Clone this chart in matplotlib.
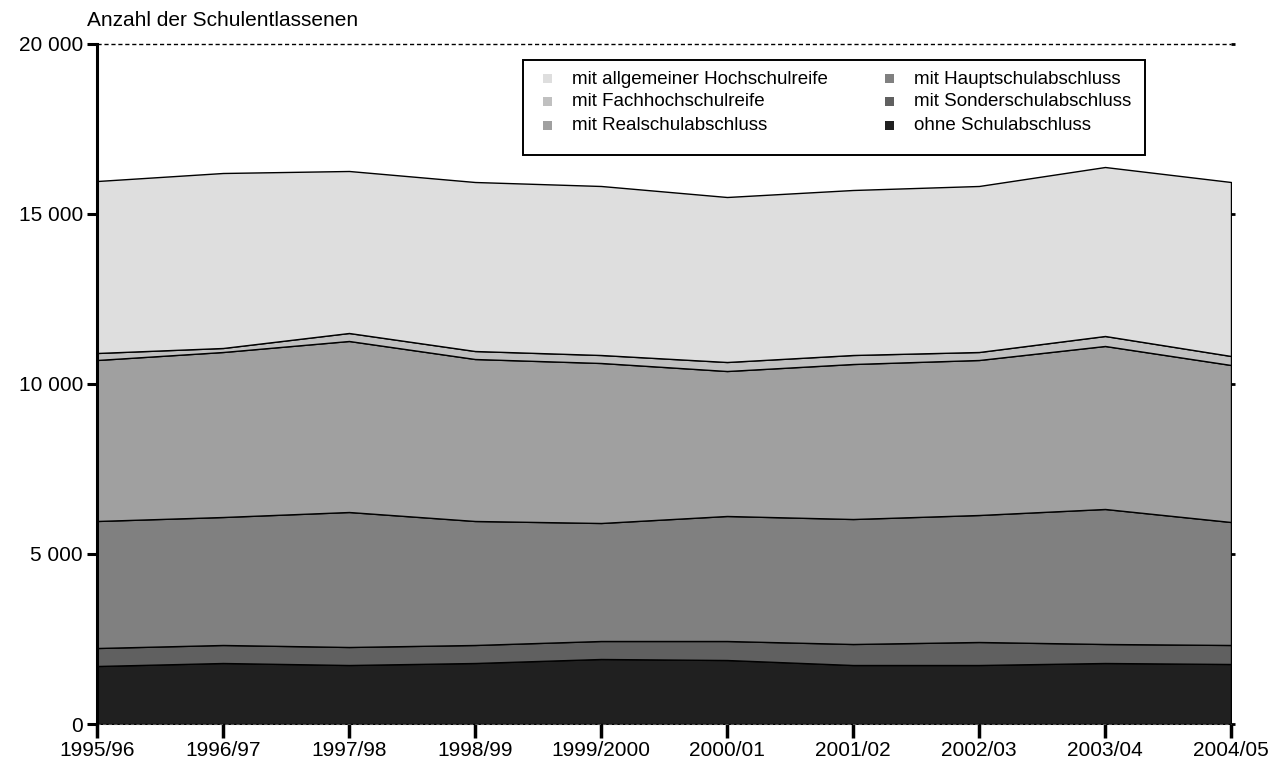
import matplotlib
matplotlib.use("Agg")
import matplotlib.pyplot as plt
from matplotlib.patches import Rectangle

plt.rcParams['font.family'] = ['Liberation Sans', 'DejaVu Sans']

years = ["1995/96", "1996/97", "1997/98", "1998/99", "1999/2000",
         "2000/01", "2001/02", "2002/03", "2003/04", "2004/05"]

# cumulative tops
top_ohne   = [1706, 1794, 1735, 1794, 1912, 1882, 1735, 1735, 1794, 1765]
top_sonder = [2235, 2324, 2265, 2324, 2441, 2441, 2353, 2412, 2353, 2324]
top_haupt  = [5971, 6088, 6235, 5971, 5912, 6118, 6029, 6147, 6324, 5941]
top_real   = [10706, 10941, 11265, 10735, 10618, 10382, 10588, 10706, 11118, 10559]
top_fach   = [10912, 11059, 11500, 10970, 10853, 10647, 10853, 10941, 11412, 10824]
top_hoch   = [15970, 16206, 16265, 15941, 15824, 15500, 15706, 15824, 16382, 15941]

ohne   = top_ohne
sonder = [b - a for a, b in zip(top_ohne, top_sonder)]
haupt  = [b - a for a, b in zip(top_sonder, top_haupt)]
real   = [b - a for a, b in zip(top_haupt, top_real)]
fach   = [b - a for a, b in zip(top_real, top_fach)]
hoch   = [b - a for a, b in zip(top_fach, top_hoch)]

series = [ohne, sonder, haupt, real, fach, hoch]
labels = ["ohne Schulabschluss", "mit Sonderschulabschluss", "mit Hauptschulabschluss",
          "mit Realschulabschluss", "mit Fachhochschulreife", "mit allgemeiner Hochschulreife"]
colors = ["#202020", "#606060", "#808080", "#a0a0a0", "#c0c0c0", "#dedede"]

yticks = [0, 5000, 10000, 15000, 20000]
ytick_labels = ["0", "5 000", "10 000", "15 000", "20 000"]

W, H = 1273, 764
fig = plt.figure(figsize=(W / 100, H / 100), dpi=100)
ax = fig.add_axes([97 / W, 1 - 724 / H, (1231 - 97) / W, (724 - 44) / H])

x = list(range(len(years)))
ax.stackplot(x, *series, colors=colors, edgecolor="black", linewidth=1.0, zorder=2)

ax.set_xlim(0, len(years) - 1)
ax.set_ylim(0, 20000)
ax.set_xticks(x)
ax.set_xticklabels(years, fontsize=15)
ax.set_yticks(yticks)
ax.set_yticklabels(ytick_labels, fontsize=15)

for s in ["top", "right", "bottom"]:
    ax.spines[s].set_visible(False)
ax.spines["left"].set_linewidth(2.2)
ax.spines["left"].set_zorder(5)

ax.tick_params(axis="y", direction="out", length=7, width=2.2, pad=3, right=True)
ax.tick_params(axis="x", direction="out", length=10, width=2.5, pad=2)
for t in ax.yaxis.get_major_ticks():
    t.tick2line.set_markersize(3)
    t.tick2line.set_markeredgewidth(2)

ax.axhline(20000, color="black", linestyle=(0, (3, 2)), linewidth=1.0, zorder=1, clip_on=False)
ax.axhline(0, color="#555555", linestyle=(0, (3, 2)), linewidth=0.8, zorder=3, clip_on=False)

fig.text(87 / W, 1 - 20 / H, "Anzahl der Schulentlassenen", fontsize=15,
         ha="left", va="center")

# legend box (drawn in figure pixel space)
def fx(px):
    return px / W

def fy(py):
    return 1 - py / H

fig.patches.append(Rectangle((fx(523), fy(155)), (1145 - 523) / W, (155 - 60) / H,
                             transform=fig.transFigure, facecolor="white",
                             edgecolor="black", linewidth=1.4, zorder=10))
legend_order = [5, 4, 3, 2, 1, 0]
col_x = [(543, 572), (885, 914)]
row_y = [79, 102, 126]
for k, i in enumerate(legend_order):
    col, row = divmod(k, 3)
    mx, tx = col_x[col]
    ry = row_y[row]
    fig.patches.append(Rectangle((fx(mx), fy(ry + 4)), 9 / W, 9 / H,
                                 transform=fig.transFigure, facecolor=colors[i],
                                 edgecolor="none", zorder=11))
    fig.text(fx(tx), fy(ry), labels[i], fontsize=13.5, ha="left", va="center",
             zorder=12)

fig.savefig("out.png", dpi=100)
